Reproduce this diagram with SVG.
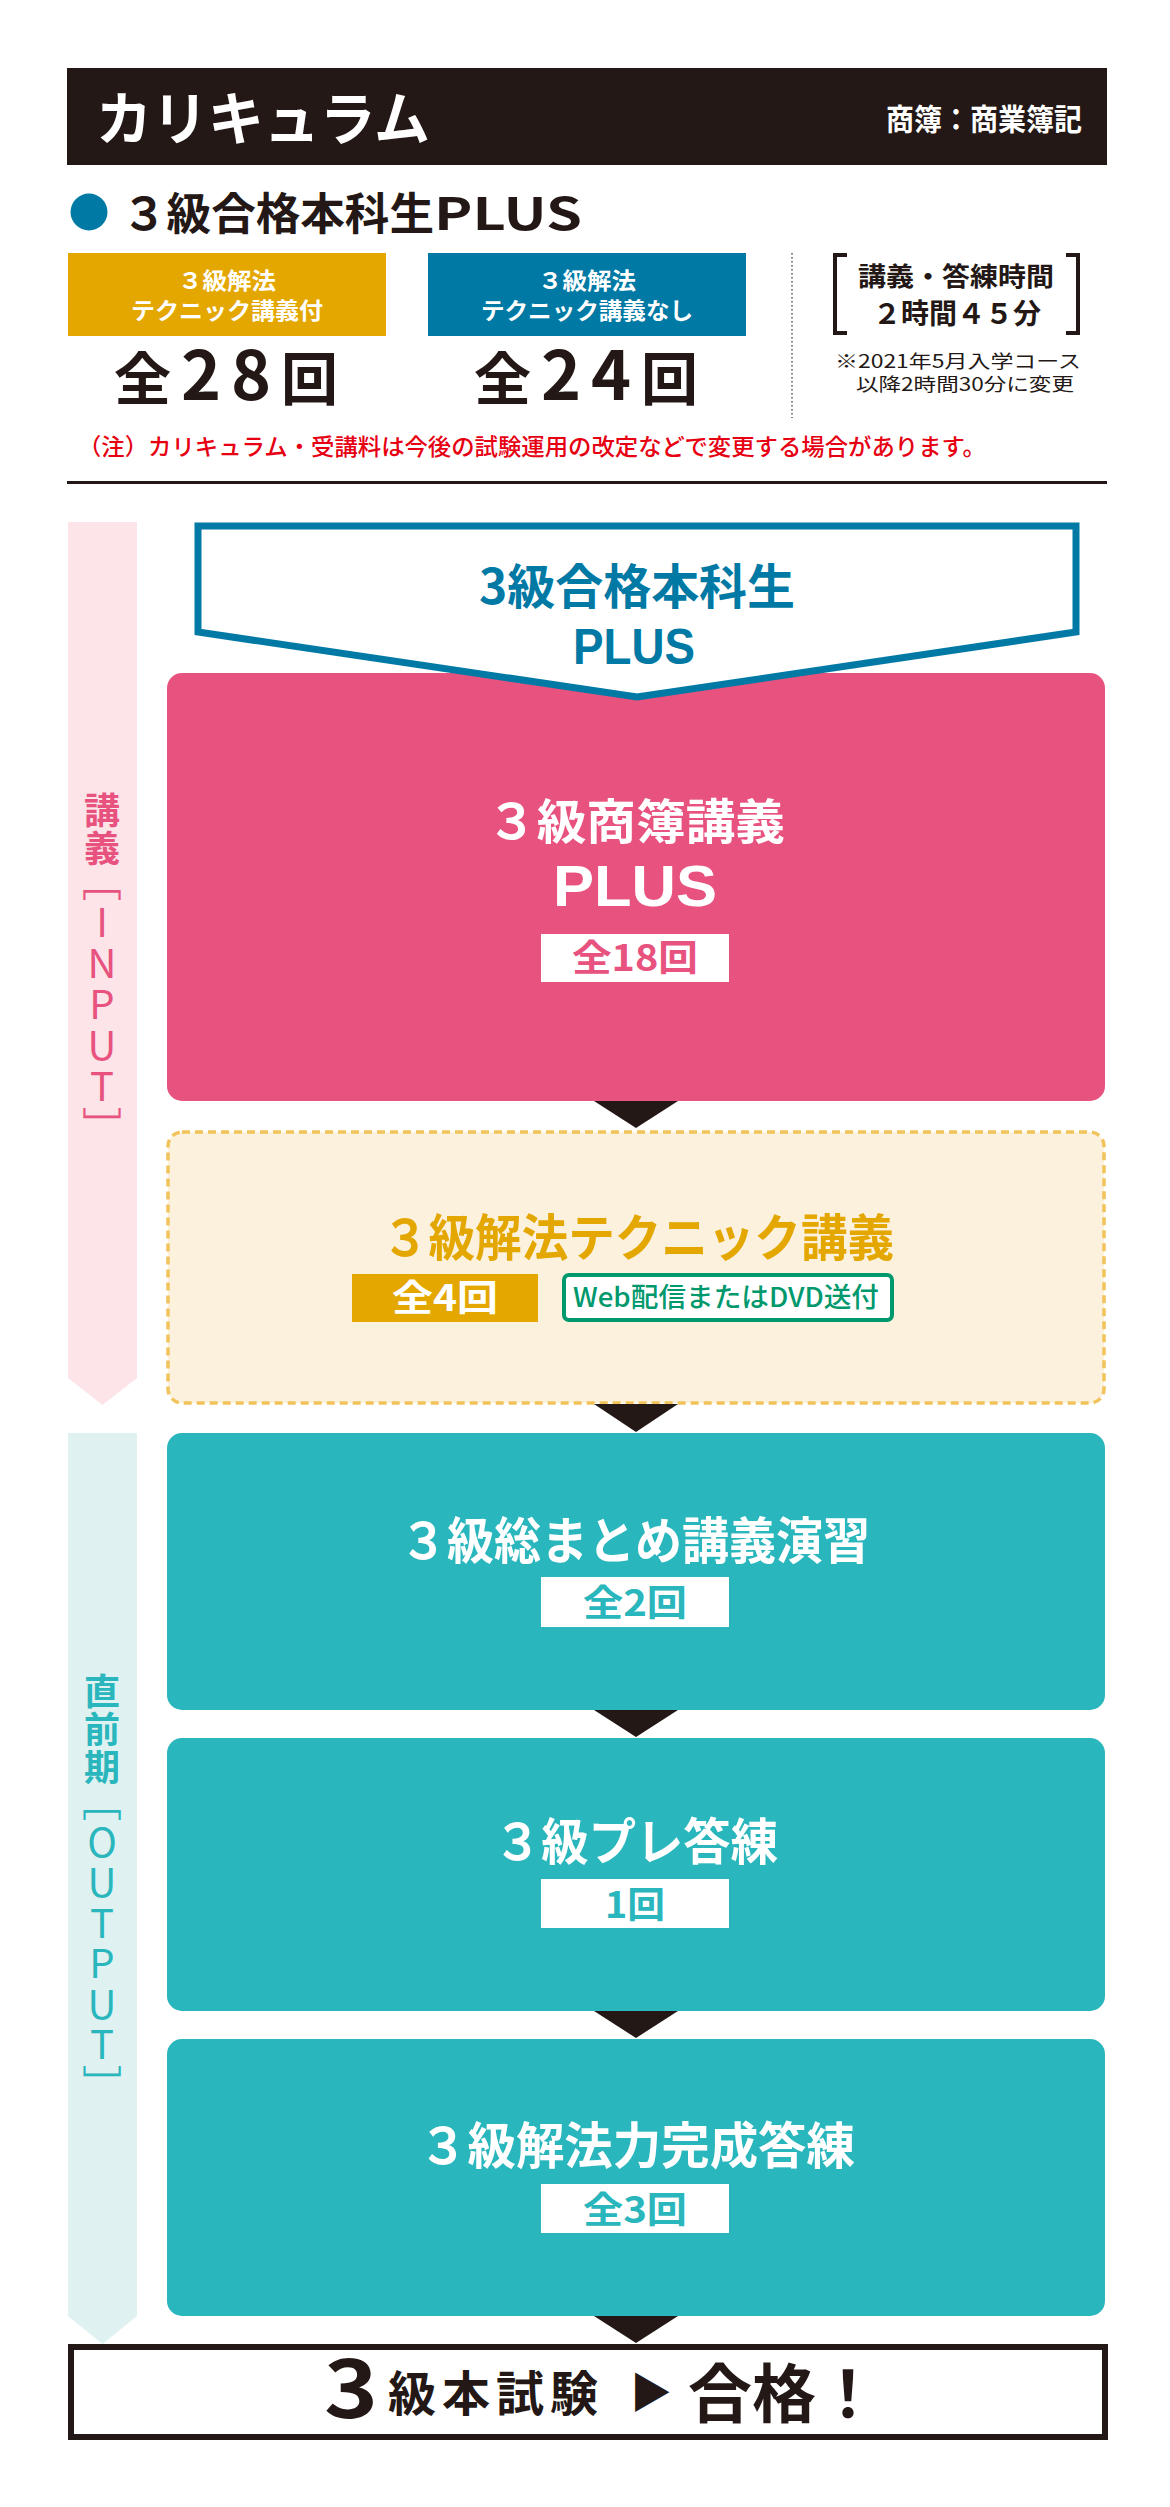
<svg xmlns="http://www.w3.org/2000/svg" width="1170" height="2507" viewBox="0 0 1170 2507">
<style>
text{font-family:"Noto Sans CJK JP","Noto Sans",sans-serif;font-weight:700}
.w{fill:#fff}
.k{fill:#231815}
.c{text-anchor:middle}
.reg{font-weight:400}
.tri{fill:#231815}
.teal{fill:#29b6bc}
.pink{fill:#e8527f}
.gold{fill:#e4a700}
.vt{writing-mode:vertical-rl;text-orientation:upright}
.vl{font-weight:400}
.lib{font-family:"Liberation Sans","Noto Sans",sans-serif;font-weight:700}
</style>
<rect width="1170" height="2507" fill="#fff"/>

<g id="header">
<rect x="67" y="68" width="1040" height="97" fill="#231815"/>
<text x="96" y="140" font-size="58" class="w" textLength="334" lengthAdjust="spacingAndGlyphs">カリキュラム</text>
<text x="1082" y="130" font-size="30" class="w" text-anchor="end" textLength="196" lengthAdjust="spacingAndGlyphs">商簿：商業簿記</text>
</g>

<g id="title">
<circle cx="89" cy="212" r="18.5" fill="#0079a5"/>
<text y="230" font-size="44" class="k"><tspan x="122" textLength="312" lengthAdjust="spacingAndGlyphs">３級合格本科生</tspan><tspan x="434" textLength="148" lengthAdjust="spacingAndGlyphs">PLUS</tspan></text>
</g>

<g id="option-with">
<rect x="68" y="253" width="318" height="83" fill="#e4a700"/>
<text font-size="23" class="w c"><tspan x="227" y="289" textLength="98" lengthAdjust="spacingAndGlyphs">３級解法</tspan><tspan x="227" y="319" textLength="192" lengthAdjust="spacingAndGlyphs">テクニック講義付</tspan></text>
<text x="226" y="400" font-size="57" class="k c" textLength="224" lengthAdjust="spacing">全<tspan font-size="68">28</tspan>回</text>
</g>

<g id="option-without">
<rect x="428" y="253" width="318" height="83" fill="#0079a5"/>
<text font-size="23" class="w c"><tspan x="587" y="289" textLength="98" lengthAdjust="spacingAndGlyphs">３級解法</tspan><tspan x="587" y="319" textLength="212" lengthAdjust="spacingAndGlyphs">テクニック講義なし</tspan></text>
<text x="586" y="400" font-size="57" class="k c" textLength="224" lengthAdjust="spacing">全<tspan font-size="68">24</tspan>回</text>
</g>

<g id="info">
<line x1="792" y1="253" x2="792" y2="418" stroke="#555" stroke-width="1.5" stroke-dasharray="1.5 2.5"/>
<path d="M847,255 H835 V333 H847 M1066,255 H1078 V333 H1066" fill="none" stroke="#231815" stroke-width="4"/>
<text class="k c"><tspan x="956" y="286" font-size="26" textLength="196" lengthAdjust="spacingAndGlyphs">講義・答練時間</tspan><tspan x="957" y="324" font-size="28" textLength="168" lengthAdjust="spacingAndGlyphs">２時間４５分</tspan></text>
<text font-size="18" class="k reg"><tspan x="835" y="368" textLength="246" lengthAdjust="spacingAndGlyphs">※2021年5月入学コース</tspan><tspan x="856" y="391" textLength="218" lengthAdjust="spacingAndGlyphs">以降2時間30分に変更</tspan></text>
</g>

<g id="note">
<text x="78" y="455" font-size="23" fill="#e60012" style="font-weight:500" textLength="908" lengthAdjust="spacingAndGlyphs">（注）カリキュラム・受講料は今後の試験運用の改定などで変更する場合があります。</text>
<rect x="67" y="481" width="1040" height="3" fill="#231815"/>
</g>

<g id="band-input">
<polygon points="68,522 137,522 137,1378 102.5,1405 68,1378" fill="#fce4e8"/>
<text x="102" y="792" font-size="36" class="pink vt" glyph-orientation-vertical="0" letter-spacing="2">講義</text>
<text x="102" y="861" font-size="40" class="pink vt vl" glyph-orientation-vertical="0" letter-spacing="1">［INPUT］</text>
</g>

<g id="band-output">
<polygon points="68,1433 137,1433 137,2316 102.5,2344 68,2316" fill="#e0f1f2"/>
<text x="102" y="1673" font-size="36" class="teal vt" glyph-orientation-vertical="0" letter-spacing="2">直前期</text>
<text x="102" y="1781" font-size="40" class="teal vt vl" glyph-orientation-vertical="0" letter-spacing="0.5">［OUTPUT］</text>
</g>

<g id="node-shobo">
<rect x="167" y="673" width="938" height="428" rx="15" fill="#e8527f"/>
<text class="w c"><tspan x="636" y="839" font-size="48" textLength="298" lengthAdjust="spacingAndGlyphs">３級商簿講義</tspan><tspan x="635" y="906" font-size="58" class="lib" textLength="164" lengthAdjust="spacingAndGlyphs">PLUS</tspan></text>
<rect x="541" y="934" width="188" height="48" fill="#fff"/>
<text x="635" y="971" font-size="36" class="pink c" textLength="126" lengthAdjust="spacingAndGlyphs">全18回</text>
</g>

<g id="node-plus">
<path d="M198,526 H1076 V632 L637,697 L198,632 Z" fill="#fff" stroke="#0079a5" stroke-width="7"/>
<text fill="#0079a5" class="c"><tspan x="637" y="604" font-size="48" textLength="316" lengthAdjust="spacingAndGlyphs">3級合格本科生</tspan><tspan x="634" y="664" font-size="50" class="lib" textLength="122" lengthAdjust="spacingAndGlyphs">PLUS</tspan></text>
</g>

<g id="node-technique">
<rect x="168" y="1132" width="936" height="271" rx="14" fill="#fbf1dd" stroke="#f2c35a" stroke-width="3.5" stroke-dasharray="8 5"/>
<text x="638" y="1256" font-size="50" class="gold c" textLength="512" lengthAdjust="spacingAndGlyphs">３級解法テクニック講義</text>
<rect x="352" y="1274" width="186" height="48" fill="#e4a700"/>
<text x="445" y="1311" font-size="36" class="w c" textLength="106" lengthAdjust="spacingAndGlyphs">全4回</text>
<rect x="564" y="1275" width="328" height="45" rx="5" fill="#fff" stroke="#00986d" stroke-width="4"/>
<text x="573" y="1307" font-size="27" fill="#00986d" style="font-weight:500" textLength="306" lengthAdjust="spacingAndGlyphs">Web配信またはDVD送付</text>
</g>

<g id="node-matome">
<rect x="167" y="1433" width="938" height="277" rx="15" fill="#29b6bc"/>
<text x="635" y="1559" font-size="50" class="w c" textLength="470" lengthAdjust="spacingAndGlyphs">３級総まとめ講義演習</text>
<rect x="541" y="1577" width="188" height="50" fill="#fff"/>
<text x="635" y="1616" font-size="36" class="teal c" textLength="104" lengthAdjust="spacingAndGlyphs">全2回</text>
</g>

<g id="node-pre">
<rect x="167" y="1738" width="938" height="273" rx="15" fill="#29b6bc"/>
<text x="636" y="1860" font-size="50" class="w c" textLength="284" lengthAdjust="spacingAndGlyphs">３級プレ答練</text>
<rect x="541" y="1879" width="188" height="49" fill="#fff"/>
<text x="635" y="1918" font-size="36" class="teal c" textLength="60" lengthAdjust="spacingAndGlyphs">1回</text>
</g>

<g id="node-kaihou">
<rect x="167" y="2039" width="938" height="277" rx="15" fill="#29b6bc"/>
<text x="637" y="2164" font-size="50" class="w c" textLength="436" lengthAdjust="spacingAndGlyphs">３級解法力完成答練</text>
<rect x="541" y="2184" width="188" height="49" fill="#fff"/>
<text x="635" y="2223" font-size="36" class="teal c" textLength="104" lengthAdjust="spacingAndGlyphs">全3回</text>
</g>

<g id="node-goal">
<rect x="71" y="2347" width="1034" height="90" fill="#fff" stroke="#231815" stroke-width="6"/>
<text y="2418" class="k"><tspan x="324" font-size="80" textLength="54" lengthAdjust="spacingAndGlyphs">3</tspan><tspan x="388" y="2411" font-size="48" letter-spacing="6">級本試験</tspan><tspan x="630" y="2408" font-size="42">▶</tspan><tspan x="688" y="2417" font-size="64">合格！</tspan></text>
</g>

<g id="connectors">
<polygon class="tri" points="594,1101 678,1101 636,1128"/>
<polygon class="tri" points="594,1404 678,1404 636,1432"/>
<polygon class="tri" points="594,1710 678,1710 636,1737"/>
<polygon class="tri" points="594,2011 678,2011 636,2038"/>
<polygon class="tri" points="594,2316 678,2316 636,2343"/>
</g>
</svg>
